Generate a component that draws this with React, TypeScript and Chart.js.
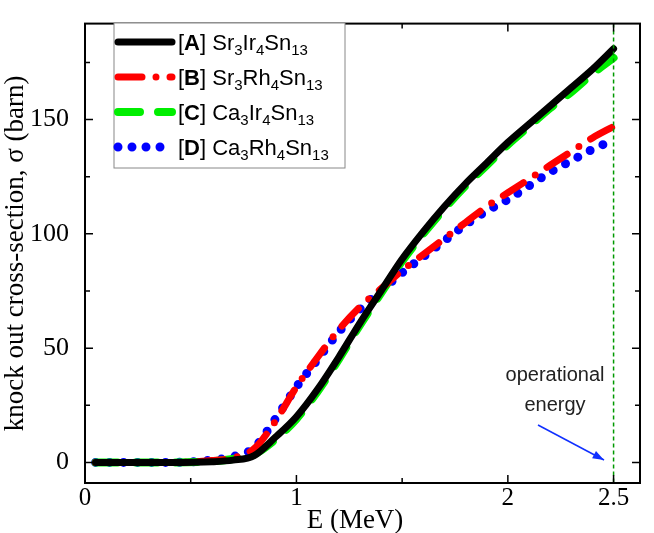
import React, { useEffect, useRef } from "react";
import { Chart, registerables } from "chart.js";
Chart.register(...registerables);

const energy = [0.05, 0.2, 0.4, 0.6, 0.7, 0.8, 0.9, 1.0, 1.1, 1.2, 1.3, 1.4, 1.5, 1.6, 1.7, 1.8, 1.9, 2.0, 2.1, 2.2, 2.3, 2.4, 2.5];
const seriesA = [0, 0, 0, 0.3, 1, 3, 11, 20, 32, 46, 61, 75, 89, 101, 112, 122, 131, 140, 148, 156, 164, 172, 181];
const seriesB = [0, 0, 0, 0.8, 2, 6, 18, 33, 46, 58, 68, 76, 84, 91, 98, 105, 112, 118, 124, 130, 136, 142, 147];
const seriesC = [0, 0, 0, 0.5, 1.5, 3.5, 10, 19, 31, 45, 60, 74, 88, 100, 111, 121, 130, 139, 147, 155, 162, 170, 177];
const seriesD = [0, 0, 0, 1, 2.5, 6.5, 19, 33, 45, 57, 67, 75, 83, 90, 97, 104, 110, 115, 121, 127, 132, 137, 141];
const xTicks = [0, 0.5, 1, 1.5, 2, 2.5];
const xLabeled = [0, 1, 2, 2.5];
const yTicks = [0, 25, 50, 75, 100, 125, 150, 175];
const legendItems = [
  { tag: "A", parts: [["Sr", "3"], ["Ir", "4"], ["Sn", "13"]] },
  { tag: "B", parts: [["Sr", "3"], ["Rh", "4"], ["Sn", "13"]] },
  { tag: "C", parts: [["Ca", "3"], ["Ir", "4"], ["Sn", "13"]] },
  { tag: "D", parts: [["Ca", "3"], ["Rh", "4"], ["Sn", "13"]] },
];
const colors = ["#000000", "#ff0000", "#00ee00", "#0000ff"];
const dashes = [[], [24, 14, 0, 14], [22, 18], [0, 14]];
const widths = [7, 7, 8, 9];

const toPts = (v: number[]) => energy.map((e, i) => ({ x: e, y: v[i] }));
const SERIF = "'Liberation Serif', 'Times New Roman', serif";

export default function App() {
  const ref = useRef<HTMLCanvasElement>(null);
  useEffect(() => {
    const all = [seriesA, seriesB, seriesC, seriesD];
    const deco = {
      id: "deco",
      afterDraw(chart: any) {
        const { ctx, chartArea: a, scales } = chart;
        const xs = scales.x, ys = scales.y;
        ctx.save();
        const x25 = xs.getPixelForValue(2.5);
        ctx.strokeStyle = "#009900"; ctx.lineWidth = 1.5; ctx.setLineDash([4, 3]);
        ctx.beginPath(); ctx.moveTo(x25, a.top); ctx.lineTo(x25, a.bottom); ctx.stroke();
        ctx.setLineDash([]);
        ctx.strokeStyle = "#000"; ctx.lineWidth = 2;
        ctx.strokeRect(a.left, a.top, a.right - a.left, a.bottom - a.top);
        ctx.lineWidth = 1.5;
        xTicks.forEach((t) => {
          const p = xs.getPixelForValue(t);
          const L = xLabeled.includes(t) ? 8 : 5;
          ctx.beginPath(); ctx.moveTo(p, a.bottom); ctx.lineTo(p, a.bottom - L);
          ctx.moveTo(p, a.top); ctx.lineTo(p, a.top + L); ctx.stroke();
        });
        yTicks.forEach((t) => {
          const p = ys.getPixelForValue(t);
          const L = t % 50 === 0 ? 8 : 5;
          ctx.beginPath(); ctx.moveTo(a.left, p); ctx.lineTo(a.left + L, p);
          ctx.moveTo(a.right, p); ctx.lineTo(a.right - L, p); ctx.stroke();
        });
        ctx.fillStyle = "#000"; ctx.textAlign = "center"; ctx.textBaseline = "middle";
        ctx.font = `25px ${SERIF}`;
        xLabeled.forEach((t) => ctx.fillText(String(t), xs.getPixelForValue(t), 498));
        ctx.font = `27px ${SERIF}`;
        ctx.fillText("E (MeV)", 355, 521);
        ctx.fillStyle = "#222"; ctx.font = "20px 'Liberation Sans', Arial";
        ctx.fillText("operational", 555, 375);
        ctx.fillText("energy", 555, 405);
        ctx.strokeStyle = "#1030ff"; ctx.fillStyle = "#1030ff"; ctx.lineWidth = 1.5;
        const x1 = 538, y1 = 425, x2 = 604, y2 = 460;
        ctx.beginPath(); ctx.moveTo(x1, y1); ctx.lineTo(x2, y2); ctx.stroke();
        const ang = Math.atan2(y2 - y1, x2 - x1);
        ctx.beginPath(); ctx.moveTo(x2, y2);
        ctx.lineTo(x2 - 12 * Math.cos(ang - 0.35), y2 - 12 * Math.sin(ang - 0.35));
        ctx.lineTo(x2 - 12 * Math.cos(ang + 0.35), y2 - 12 * Math.sin(ang + 0.35));
        ctx.closePath(); ctx.fill();
        ctx.strokeStyle = "#888"; ctx.lineWidth = 1;
        ctx.fillStyle = "#fff";
        ctx.fillRect(114, 23, 231, 145);
        ctx.strokeRect(114, 23, 231, 145);
        legendItems.forEach((it, i) => {
          const y = 42 + i * 35;
          ctx.strokeStyle = colors[i]; ctx.lineWidth = widths[i]; ctx.lineCap = "round";
          ctx.setLineDash(dashes[i]);
          ctx.beginPath(); ctx.moveTo(118, y); ctx.lineTo(172, y); ctx.stroke();
          ctx.setLineDash([]); ctx.lineCap = "butt";
          ctx.fillStyle = "#000"; ctx.textAlign = "left"; ctx.textBaseline = "alphabetic";
          let x = 178; const base = y + 8;
          ctx.font = "22px 'Liberation Sans', Arial";
          ctx.fillText("[", x, base); x += ctx.measureText("[").width;
          ctx.font = "bold 22px 'Liberation Sans', Arial";
          ctx.fillText(it.tag, x, base); x += ctx.measureText(it.tag).width;
          ctx.font = "22px 'Liberation Sans', Arial";
          ctx.fillText("] ", x, base); x += ctx.measureText("] ").width;
          it.parts.forEach(([s, sub]) => {
            ctx.font = "22px 'Liberation Sans', Arial";
            ctx.fillText(s, x, base); x += ctx.measureText(s).width;
            ctx.font = "15px 'Liberation Sans', Arial";
            ctx.fillText(sub, x, base + 5); x += ctx.measureText(sub).width;
          });
        });
        ctx.restore();
      },
    };
    const chart = new Chart(ref.current!, {
      type: "scatter",
      data: {
        datasets: all.map((s, i) => ({
          data: toPts(s),
          showLine: true,
          borderColor: colors[i],
          backgroundColor: colors[i],
          borderWidth: widths[i],
          borderDash: dashes[i],
          borderCapStyle: "round",
          pointRadius: 0,
          cubicInterpolationMode: "monotone",
        })) as any,
      },
      options: {
        responsive: false,
        animation: false,
        layout: { padding: { left: 0, right: 14, top: 20, bottom: 0 } },
        plugins: { legend: { display: false }, tooltip: { enabled: false } },
        scales: {
          x: {
            type: "linear", min: 0, max: 2.625,
            grid: { display: false }, border: { display: false },
            afterBuildTicks: (s: any) => { s.ticks = xTicks.map((v) => ({ value: v })); },
            afterFit: (s: any) => { s.height = 50; },
            ticks: { display: false },
          },
          y: {
            type: "linear", min: -9, max: 192,
            grid: { display: false }, border: { display: false },
            afterBuildTicks: (s: any) => { s.ticks = yTicks.map((v) => ({ value: v })); },
            afterFit: (s: any) => { s.width = 85; },
            ticks: {
              autoSkip: false, padding: 8, color: "#000",
              font: { family: SERIF, size: 26 },
              callback: (v: any) => (Number(v) % 50 === 0 ? String(v) : ""),
            },
            title: { display: true, text: "knock out cross-section, σ (barn)", color: "#000", padding: 0, font: { family: SERIF, size: 27 } },
          },
        },
      },
      plugins: [deco],
    });
    return () => chart.destroy();
  }, []);
  return (
    <div style={{ position: "fixed", left: 0, top: 0, width: 654, height: 533, background: "#fff" }}>
      <canvas ref={ref} width={654} height={533} />
    </div>
  );
}
